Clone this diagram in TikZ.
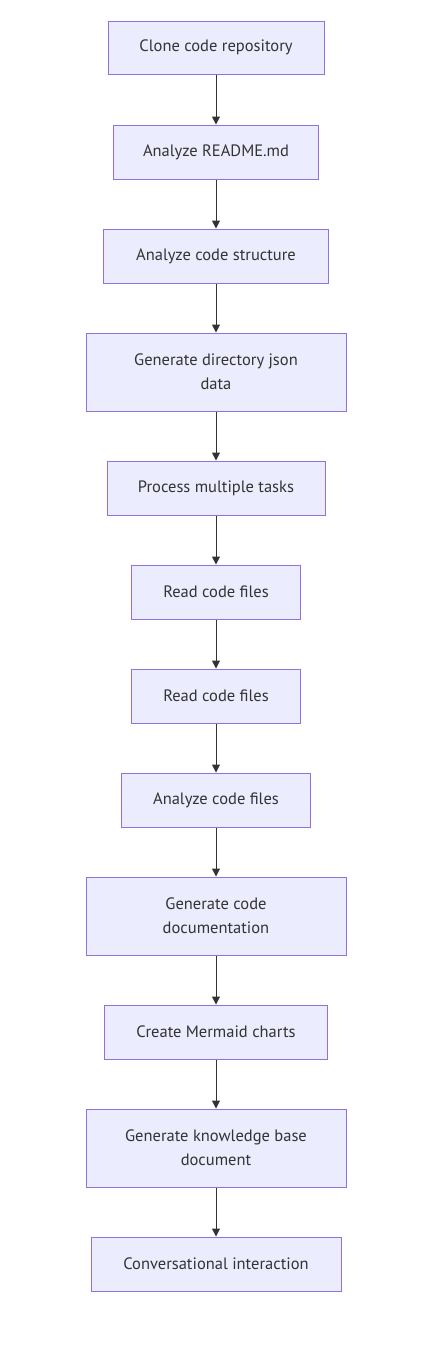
\documentclass[tikz,border=0pt]{standalone}
\usepackage{fontspec}
\setmainfont{PT Sans}
\usetikzlibrary{arrows.meta}
\definecolor{nodefill}{HTML}{ECECFF}
\definecolor{nodeline}{HTML}{9370DB}
\definecolor{txt}{HTML}{333333}
\definecolor{edge}{HTML}{333333}
\tikzset{
  box/.style={draw=nodeline, fill=nodefill, line width=1pt, rectangle, inner sep=0pt,
    text=txt, font=\fontsize{16.5}{24}\selectfont, align=center},
  flow/.style={draw=edge, line width=1pt, -{Triangle[length=8pt,width=8pt]}}
}
\begin{document}
\begin{tikzpicture}[x=1pt,y=-1pt]
\useasboundingbox (0,0) rectangle (428,1345);
\node[box, minimum width=216, minimum height=53] (n1) at (216,47.5) {Clone code repository};
\node[box, minimum width=205, minimum height=54] (n2) at (216,152) {Analyze README.md};
\node[box, minimum width=225, minimum height=54] (n3) at (216,256) {Analyze code structure};
\node[box, minimum width=260, minimum height=78] (n4) at (216,372) {Generate directory json\\data};
\node[box, minimum width=218, minimum height=54] (n5) at (216,488) {Process multiple tasks};
\node[box, minimum width=169, minimum height=54] (n6) at (216,592) {Read code files};
\node[box, minimum width=169, minimum height=54] (n7) at (216,696) {Read code files};
\node[box, minimum width=189, minimum height=54] (n8) at (216,800) {Analyze code files};
\node[box, minimum width=260, minimum height=78] (n9) at (216,916) {Generate code\\documentation};
\node[box, minimum width=223, minimum height=54] (n10) at (216,1032) {Create Mermaid charts};
\node[box, minimum width=260, minimum height=78] (n11) at (216,1148) {Generate knowledge base\\document};
\node[box, minimum width=250, minimum height=54] (n12) at (216,1264) {Conversational interaction};
\foreach \a/\b in {n1/n2,n2/n3,n3/n4,n4/n5,n5/n6,n6/n7,n7/n8,n8/n9,n9/n10,n10/n11,n11/n12}
  \draw[flow] (\a.south) -- (\b.north);
\end{tikzpicture}
\end{document}
